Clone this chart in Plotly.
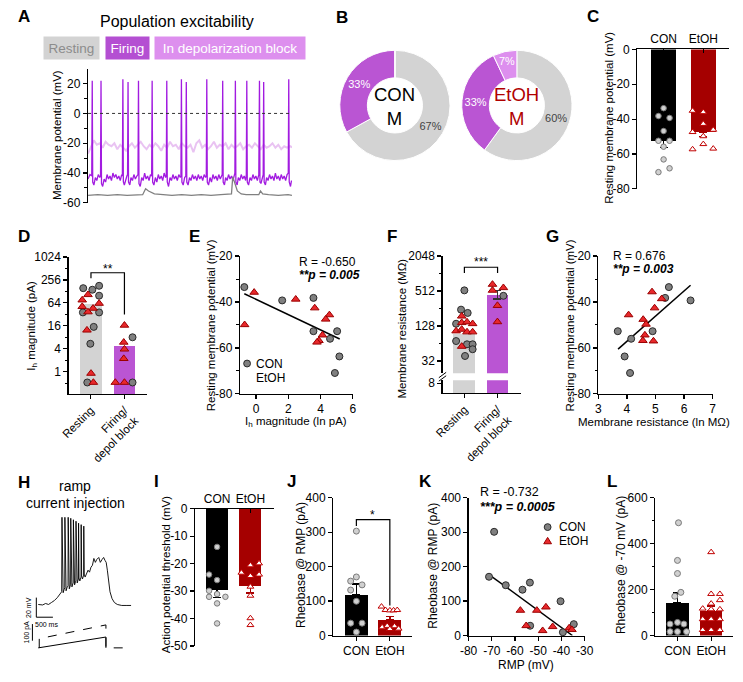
import plotly.graph_objects as go

W, H = 743, 682
FONT = "Liberation Sans, Arial, Helvetica, sans-serif"

# ------------------------------------------------------------------ DATA
# A: example traces (time in ms, membrane potential in mV)
firing_pts = [(0,-44),(20,-41),(38,-42),(43,22),(48,-46),(60,-48),(75,-43),(90,-45),(105,-41),(120,-43),(128,-42),(133,22),(138,-47),(150,-49),
    (165,-44),(180,-46),(195,-41),(210,-44),(225,-42),(240,-45),(255,-40),(270,-43),(285,-41),(300,-44),(315,-42),(330,-45),(345,-41),(352,-42),
    (357,23),(362,-46),(372,-48),(385,-44),(398,-42),(405,-41),(410,21),(415,-46),(428,-48),(440,-43),(455,-45),(470,-41),(485,-44),(500,-42),
    (512,-41),(517,22),(522,-47),(535,-49),(550,-43),(565,-45),(580,-40),(595,-44),(610,-42),(625,-45),(640,-41),(652,-42),(657,22),(662,-46),
    (675,-48),(690,-43),(705,-46),(720,-41),(735,-44),(750,-42),(765,-45),(780,-40),(795,-43),(802,-42),(807,22),(812,-46),(825,-49),(840,-43),
    (855,-45),(870,-41),(885,-44),(900,-42),(915,-45),(930,-41),(945,-43),(952,-42),(957,23),(962,-46),(975,-48),(990,-43),(1002,-42),(1007,21),
    (1012,-46),(1025,-48),(1040,-43),(1055,-45),(1070,-41),(1085,-44),(1100,-42),(1115,-45),(1130,-41),(1145,-44),(1160,-42),(1175,-45),
    (1190,-41),(1205,-43),(1212,-42),(1217,23),(1222,-46),(1235,-48),(1250,-43),(1265,-46),(1280,-41),(1295,-44),(1310,-42),(1325,-45),
    (1340,-41),(1355,-44),(1368,-42),(1375,-41),(1380,22),(1385,-46),(1398,-48),(1410,-43),(1425,-45),(1440,-41),(1455,-44),(1470,-42),
    (1485,-45),(1500,-41),(1505,-40),(1510,22),(1515,-46),(1528,-48),(1540,-43),(1555,-45),(1570,-41),(1585,-44),(1600,-42),(1615,-45),
    (1622,-41),(1627,22),(1632,-46),(1645,-48),(1660,-43),(1675,-45),(1690,-41),(1705,-44),(1720,-42),(1735,-45),(1750,-41),(1757,22),
    (1762,-46),(1772,-47),(1785,-43),(1795,-41),(1800,21),(1805,-46),(1818,-48),(1830,-43),(1845,-45),(1860,-41),(1875,-44),(1890,-42),
    (1905,-45),(1920,-40),(1935,-44),(1950,-42),(1965,-45),(1980,-41),(1995,-44),(2010,-42),(2025,-45),(2040,-41),(2052,-40),(2057,23),
    (2062,-46),(2075,-49),(2085,-45)]
depol_t = list(range(0, 2101, 30))
depol_v = [-27,-22,-18,-21,-20,-23,-19,-21,-22,-20,-24,-21,-23,-25,-22,-20,-23,-21,-19,-22,-24,-21,-23,-20,-22,-25,-21,-23,-19,-22,
           -21,-24,-20,-22,-23,-21,-26,-20,-18,-23,-21,-24,-22,-19,-23,-21,-22,-20,-24,-21,-23,-22,-20,-24,-22,-21,-23,-20,-22,-24,
           -21,-23,-22,-20,-23,-21,-24,-22,-23,-22,-23]
resting_t = [0,100,200,300,400,500,560,590,620,680,760,860,960,1060,1160,1260,1360,1440,1470,1483,1500,1530,1570,1620,1700,1750,1767,1790,1850,1950,2050,2090]
resting_v = [-55,-54.5,-55,-54.5,-55,-54.5,-54.5,-50.5,-52,-54,-54.5,-55,-54.5,-55,-54.5,-55,-54.5,-54.5,-54,-42.5,-46,-52,-54,-54.5,-54.5,-54.5,-52,-54,-54.5,-55,-54.5,-55]

# B: population proportions (%)
pie_labels = ["Resting", "Firing", "In depolarization block"]
pie_con = [67, 33, 0]
pie_etoh = [60, 33, 7]

# C: resting membrane potential (mV)
groups = ["CON", "EtOH"]
c_mean = [-52.4, -47.3]
c_sem = [3.9, 2.8]
c_con = [-33.7, -38.2, -39.3, -46.8, -52.4, -52.4, -55.8, -63.1, -68.2, -70.4]
c_etoh = [-35.2, -36.0, -42.7, -46.1, -47.4, -49.8, -54.3, -57.3, -56.9]

# D: Ih magnitude (pA)
state_labels = ["Resting", "Firing/<br>depol block"]
d_mean = [59.7, 4.75]
d_rest_con = [156, 142, 180, 99, 36, 36, 15, 5.4, 0.52]
d_rest_etoh = [105, 76, 62, 51, 46, 37, 12.3, 0.9, 0.52]
d_fire_con = [8, 0.52]
d_fire_etoh = [16.5, 5.9, 3.9, 2.2, 0.52, 0.52]

# E: RMP vs ln Ih
e_con_x = [-0.73, 1.62, 3.56, 3.56, 4.59, 5.03, 5.17, 4.89]
e_con_y = [-33.5, -39.3, -38.2, -52.7, -56.0, -52.7, -63.7, -70.9]
e_etoh_x = [-0.12, -0.71, 2.46, 3.64, 4.55, 4.32, 4.12, 3.90, 3.78]
e_etoh_y = [-35.8, -49.9, -38.8, -42.6, -45.6, -47.5, -54.4, -56.8, -57.5]
e_fit_x = [-0.73, 5.19]
e_fit_y = [-36.4, -56.1]

# F: membrane resistance (MOhm)
f_mean = [92, 433]
f_sem_up = [0, 93]
f_sem_down = [0, 60]
f_rest_con = [526, 245, 215, 140, 70.5, 62, 62, 51, 39]
f_rest_etoh = [189, 146, 150, 140, 105, 112, 101, 101, 57]
f_fire_con = [424]
f_fire_etoh = [666, 526, 584, 288, 151]

# G: RMP vs ln Rm
g_con_x = [3.68, 4.15, 3.92, 4.11, 4.90, 5.34, 5.47, 6.23]
g_con_y = [-52.7, -56.0, -63.7, -70.9, -52.7, -38.2, -33.5, -39.3]
g_etoh_x = [4.88, 5.22, 4.97, 4.06, 4.57, 4.67, 4.63, 4.56, 4.93]
g_etoh_y = [-35.6, -38.6, -42.6, -45.6, -47.6, -49.7, -54.4, -56.8, -57.0]
g_fit_x = [3.69, 6.23]
g_fit_y = [-60.5, -32.7]

# H: ramp example (ms, mV) and injected current (ms, pA)
ramp_pts = [(0,-65),(150,-65.5),(250,-64),(350,-65),(450,-63),(550,-61),(650,-58),(720,-55),(780,-53),(800,-52),(810,24),(825,-50),(850,-53),
    (880,-50),(905,-48),(910,24),(925,-48),(950,-51),(980,-48),(1017,-46),(1022,24),(1037,-46),(1060,-49),(1090,-46),(1105,-45),(1110,23),
    (1125,-44),(1150,-47),(1180,-44),(1195,-43),(1200,21.5),(1215,-42),(1240,-45),(1270,-42),(1284,-41),(1289,20),(1304,-40),(1330,-43),
    (1360,-40),(1372,-39),(1377,18),(1392,-38),(1420,-41),(1450,-38),(1461,-37),(1466,16.5),(1481,-36),(1510,-39),(1540,-36),(1550,-35),
    (1555,15),(1570,-34),(1600,-37),(1650,-33),(1700,-30),(1750,-32),(1800,-27),(1850,-25),(1900,-18),(1950,-22),(2000,-19),(2067,-17),
    (2120,-22),(2180,-19),(2233,-17),(2280,-20),(2320,-22),(2360,-30),(2400,-42),(2450,-52),(2520,-59),(2600,-63),(2700,-65),(2850,-66),
    (3000,-66),(3170,-66)]
cur_solid_t = [0, 2311, 2311]
cur_solid_i = [0, 66, 0]
cur_dash_t = [33, 33, 2311, 2311, 3170]
cur_dash_i = [0, 56, 140, 0, 0]

# I: AP threshold (mV)
i_mean = [-29.5, -28.1]
i_sem = [2.8, 2.6]
i_con = [-13.9, -24.0, -26.0, -29.9, -32.1, -31.1, -32.1, -34.5, -41.8]
i_etoh = [-20.6, -24.5, -28.4, -31.7, -39.9, -42.4, -23.3, -19.9, -24.0]

# J: rheobase @ RMP (pA)
j_mean = [118.5, 45.5]
j_sem = [31, 10]
j_con = [303, 158, 170, 147, 132, 99.5, 36, 36, 10]
j_etoh = [84, 74, 73, 73, 74, 24, 28, 19, 27, 20]

# K: rheobase vs RMP
k_con_x = [-71.2, -69.0, -64.0, -56.8, -53.6, -53.5, -40.4, -39.4, -34.7]
k_con_y = [170.6, 301, 146, 133, 153.6, 28.4, 99.5, 9.5, 33]
k_etoh_x = [-57.7, -55.2, -50.6, -48.1, -46.7, -43.8, -36.7, -35.5]
k_etoh_y = [73, 28.4, 73, 14, 82.5, 25.6, 21.8, 17]
k_fit_x = [-71.2, -35.3]
k_fit_y = [177, 0]

# L: rheobase @ -70 mV (pA)
l_mean = [142, 108]
l_sem = [43, 20]
l_con = [491, 327, 270, 188, 171, 57, 50, 50, 17, 17, 17]
l_etoh = [363, 181, 181, 139, 154, 117, 114, 114, 71, 71, 71, 24, 24, 24]

# ---------------------------------------------------------- STYLE (jitter offsets etc.)
c_con_dx = [0, -0.13, 0.15, 0, -0.13, 0.15, 0, 0, 0.15, -0.13]
c_etoh_dx = [-0.27, 0, 0, 0.25, -0.27, 0, 0, -0.27, 0.25]
d_rest_con_dx = [-0.22, 0.05, 0.25, 0.25, -0.23, 0.25, 0.09, -0.01, -0.10]
d_rest_etoh_dx = [-0.08, -0.25, 0.25, -0.25, 0.07, -0.08, -0.11, 0.01, 0.08]
d_fire_con_dx = [0.24, 0.24]
d_fire_etoh_dx = [0, -0.02, 0, -0.02, -0.27, 0]
f_rest_con_dx = [0, -0.1, 0.1, -0.25, -0.25, 0.08, 0.25, 0.25, 0.02]
f_rest_etoh_dx = [-0.08, -0.08, 0.08, 0.25, -0.25, -0.08, 0.08, 0.25, -0.08]
f_fire_con_dx = [0.18]
f_fire_etoh_dx = [-0.15, -0.15, 0.18, 0, 0]
i_con_dx = [0, -0.24, 0, -0.24, -0.24, 0, 0.25, 0, 0]
i_etoh_dx = [0, 0, 0, 0, 0, 0, -0.27, 0.26, 0.26]
j_con_dx = [0, -0.17, 0, 0.17, -0.17, 0, -0.17, 0.17, 0]
j_etoh_dx = [-0.25, -0.13, 0, 0.11, 0.22, -0.23, -0.08, 0, 0.14, 0.26]
l_con_dx = [0.03, 0, 0, 0.1, -0.08, 0, -0.22, 0.19, -0.22, 0, 0.27]
l_etoh_dx = [0, 0, 0.26, 0, 0.26, -0.25, 0, 0.26, -0.25, 0, 0.26, -0.25, 0, 0.26]

GRAY = "#D3D3D3"
PURPLE = "#BA55D3"
LPURPLE = "#DD8FEE"
DARKRED = "#A50000"
RED = "#E8282B"
CON_DARK = dict(symbol="circle", size=7, color="#808080", line=dict(color="#2A2A2A", width=1))
ETOH_DARK = dict(symbol="triangle-up", size=7.5, color=RED, line=dict(color="#9A0000", width=1))


def fx(px):
    return px / W


def fy(py):
    return 1 - py / H


def dxr(a, b):
    return [a / W, b / W]


def dyr(top, bottom):
    return [1 - bottom / H, 1 - top / H]


fig = go.Figure()

# ---------------- A
fig.add_trace(go.Scatter(x=depol_t, y=depol_v, mode="lines", line=dict(color="#E9C3F2", width=2), xaxis="x", yaxis="y", showlegend=False))
fig.add_trace(go.Scatter(x=[p[0] for p in firing_pts], y=[p[1] for p in firing_pts], mode="lines",
                         line=dict(color="#A21BE0", width=1.3), xaxis="x", yaxis="y", showlegend=False))
fig.add_trace(go.Scatter(x=resting_t, y=resting_v, mode="lines", line=dict(color="#808080", width=1.3), xaxis="x", yaxis="y", showlegend=False))

# ---------------- B
pie_common = dict(labels=pie_labels, hole=0.5, sort=False, direction="clockwise", rotation=0,
                  marker=dict(colors=[GRAY, PURPLE, LPURPLE], line=dict(color="white", width=1)),
                  textinfo="percent", textposition="inside", insidetextorientation="horizontal",
                  textfont=dict(family=FONT, size=11, color=["#444444", "white", "white"]), showlegend=False)
fig.add_trace(go.Pie(values=pie_con, domain=dict(x=dxr(339, 452), y=dyr(44, 157)), **pie_common))
fig.add_trace(go.Pie(values=pie_etoh, domain=dict(x=dxr(464, 577), y=dyr(44, 157)), **pie_common))


def add_bars(ax, means, ups, downs, colors, width, errcolors=None):
    xa, ya = "x" + ax, "y" + ax
    errcolors = errcolors or colors
    for i, (m, u, d, c, ec) in enumerate(zip(means, ups, downs, colors, errcolors)):
        err = dict(type="data", symmetric=False, array=[u], arrayminus=[d],
                   color=ec, thickness=1.3, width=4, visible=bool(u or d))
        fig.add_trace(go.Bar(x=[i], y=[m], width=width, marker=dict(color=c, line=dict(width=0)),
                             error_y=err, xaxis=xa, yaxis=ya, showlegend=False))


def add_pts(ax, cat, vals, dx, kind, size):
    xa, ya = "x" + ax, "y" + ax
    if kind == "con_light":
        marker = dict(symbol="circle", size=size, color="#D0D0D0", line=dict(color="#7A7A7A", width=1))
    elif kind == "etoh_light":
        marker = dict(symbol="triangle-up", size=size, color="white", line=dict(color="#C00000", width=1))
    elif kind == "con_dark":
        marker = dict(CON_DARK, size=size)
    else:
        marker = dict(ETOH_DARK, size=size)
    fig.add_trace(go.Scatter(x=[cat + d for d in dx], y=vals, mode="markers", marker=marker, cliponaxis=False,
                             xaxis=xa, yaxis=ya, showlegend=False))


def add_scatter(ax, x, y, marker):
    fig.add_trace(go.Scatter(x=x, y=y, mode="markers", marker=marker, cliponaxis=False, showlegend=False,
                             xaxis="x" + ax, yaxis="y" + ax))


def add_fit(ax, x, y):
    fig.add_trace(go.Scatter(x=x, y=y, mode="lines", line=dict(color="black", width=1.5), showlegend=False,
                             xaxis="x" + ax, yaxis="y" + ax))


# ---------------- C
add_bars("2", c_mean, [0, 0], c_sem, ["black", DARKRED], 0.64)
add_pts("2", 0, c_con, c_con_dx, "con_light", 5.5)
add_pts("2", 1, c_etoh, c_etoh_dx, "etoh_light", 6)

# ---------------- D
add_bars("3", d_mean, [0, 0], [0, 0], [GRAY, PURPLE], 0.645)
add_pts("3", 0, d_rest_con, d_rest_con_dx, "con_dark", 7)
add_pts("3", 0, d_rest_etoh, d_rest_etoh_dx, "etoh_dark", 7.5)
add_pts("3", 1, d_fire_con, d_fire_con_dx, "con_dark", 7)
add_pts("3", 1, d_fire_etoh, d_fire_etoh_dx, "etoh_dark", 7.5)

# ---------------- E
add_fit("4", e_fit_x, e_fit_y)
add_scatter("4", e_con_x, e_con_y, CON_DARK)
add_scatter("4", e_etoh_x, e_etoh_y, ETOH_DARK)

# ---------------- F (broken axis: upper x5/y5, lower x6/y6)
add_bars("5", f_mean, f_sem_up, f_sem_down, [GRAY, PURPLE], 0.66, errcolors=["#333333", "#333333"])
add_bars("6", f_mean, [0, 0], [0, 0], [GRAY, PURPLE], 0.66)
add_pts("5", 0, f_rest_con, f_rest_con_dx, "con_dark", 7)
add_pts("5", 0, f_rest_etoh, f_rest_etoh_dx, "etoh_dark", 7.5)
add_pts("5", 1, f_fire_etoh, f_fire_etoh_dx, "etoh_dark", 7.5)
add_pts("5", 1, f_fire_con, f_fire_con_dx, "con_dark", 7)

# ---------------- G
add_fit("7", g_fit_x, g_fit_y)
add_scatter("7", g_con_x, g_con_y, CON_DARK)
add_scatter("7", g_etoh_x, g_etoh_y, ETOH_DARK)

# ---------------- H
fig.add_trace(go.Scatter(x=[p[0] for p in ramp_pts], y=[p[1] for p in ramp_pts], mode="lines", line=dict(color="black", width=0.9),
                         xaxis="x8", yaxis="y8", showlegend=False))
fig.add_trace(go.Scatter(x=cur_solid_t, y=cur_solid_i, mode="lines", line=dict(color="black", width=1), xaxis="x9", yaxis="y9", showlegend=False))
fig.add_trace(go.Scatter(x=cur_dash_t, y=cur_dash_i, mode="lines", line=dict(color="black", width=1, dash="dash"),
                         xaxis="x9", yaxis="y9", showlegend=False))

# ---------------- I
add_bars("10", i_mean, [0, 0], i_sem, ["black", DARKRED], 0.66)
add_pts("10", 0, i_con, i_con_dx, "con_light", 5.5)
add_pts("10", 1, i_etoh, i_etoh_dx, "etoh_light", 6)

# ---------------- J
add_bars("11", j_mean, j_sem, [0, 0], ["black", DARKRED], 0.68)
add_pts("11", 0, j_con, j_con_dx, "con_light", 6)
add_pts("11", 1, j_etoh, j_etoh_dx, "etoh_light", 6)

# ---------------- K
add_fit("12", k_fit_x, k_fit_y)
add_scatter("12", k_con_x, k_con_y, CON_DARK)
add_scatter("12", k_etoh_x, k_etoh_y, ETOH_DARK)

# ---------------- L
add_bars("13", l_mean, l_sem, [0, 0], ["black", DARKRED], 0.66)
add_pts("13", 0, l_con, l_con_dx, "con_light", 6)
add_pts("13", 1, l_etoh, l_etoh_dx, "etoh_light", 6)

# ------------------------------------------------------------------ AXES
TICKFONT = dict(family=FONT, size=12, color="black")


def ax(domain, rng, anchor, **kw):
    d = dict(domain=domain, range=rng, anchor=anchor, showgrid=False, zeroline=False, showline=True,
             linecolor="black", linewidth=1.2, ticks="outside", ticklen=4, tickwidth=1.2, tickcolor="black",
             tickfont=TICKFONT, fixedrange=True)
    d.update(kw)
    return d


def tv(vals):
    return dict(tickmode="array", tickvals=vals, ticktext=[str(v) for v in vals])


def minor(vals):
    return dict(tickmode="array", tickvals=vals, ticks="outside", ticklen=2.5, tickwidth=1, tickcolor="black")


cat_ticks = dict(tickmode="array", tickvals=[0, 1], ticktext=groups)
state_ticks = dict(tickmode="array", tickvals=[0, 1], ticktext=state_labels, tickangle=-45,
                   tickfont=dict(family=FONT, size=11.5, color="black"))

layout_axes = dict(
    xaxis=ax(dxr(81, 290), [0, 2090], "y", visible=False),
    yaxis=ax(dyr(63, 200), [-60, 30], "x", **tv([-60, -40, -20, 0, 20]), minor=minor([-50, -30, -10, 10])),
    xaxis2=ax(dxr(644, 738), [-0.66, 1.65], "y2", side="top", **cat_ticks, ticks="inside"),
    yaxis2=ax(dyr(43.3, 185.7), [-80, 0], "x2", **tv([-80, -60, -40, -20, 0])),
    xaxis3=ax(dxr(61, 141.7), [-0.656, 1.676], "y3", **state_ticks),
    yaxis3=ax(dyr(255.3, 395), [-0.584, 3.0103], "x3", type="log", **tv([1, 4, 16, 64, 256, 1024]),
              minor=minor([0.5, 2, 8, 32, 128, 512])),
    xaxis4=ax(dxr(236.7, 352.3), [-1, 6], "y4", **tv([0, 2, 4, 6])),
    yaxis4=ax(dyr(254.3, 395), [-80, -20], "x4", **tv([-80, -60, -40, -20]), minor=minor([-70, -50, -30])),
    xaxis5=ax(dxr(444.3, 524.3), [-0.66, 1.7], "y5", visible=False),
    yaxis5=ax(dyr(254.3, 374), [1.2927, 3.3113], "x5", type="log", **tv([32, 128, 512, 2048]), minor=minor([64, 256, 1024])),
    xaxis6=ax(dxr(444.3, 524.3), [-0.66, 1.7], "y6", **state_ticks),
    yaxis6=ax(dyr(381, 394.3), [0.728, 0.954], "x6", type="log", **tv([8])),
    xaxis7=ax(dxr(604, 721), [3, 7], "y7", **tv([3, 4, 5, 6, 7])),
    yaxis7=ax(dyr(254.3, 395), [-80, -20], "x7", **tv([-80, -60, -40, -20]), minor=minor([-70, -50, -30])),
    xaxis8=ax(dxr(20, 126), [-333, 3200], "y8", visible=False),
    yaxis8=ax(dyr(518, 632), [-87, 27], "x8", visible=False),
    xaxis9=ax(dxr(20, 126), [-333, 3200], "y9", visible=False),
    yaxis9=ax(dyr(625, 665), [-64, 175], "x9", visible=False),
    xaxis10=ax(dxr(190.7, 272), [-0.66, 1.72], "y10", side="top", **cat_ticks, ticks="inside"),
    yaxis10=ax(dyr(512.3, 652.3), [-50, 0], "x10", **tv([-50, -40, -30, -20, -10, 0])),
    xaxis11=ax(dxr(332.3, 413), [-0.69, 1.66], "y11", **cat_ticks),
    yaxis11=ax(dyr(501, 641.7), [0, 400], "x11", **tv([0, 100, 200, 300, 400])),
    xaxis12=ax(dxr(471, 590), [-80, -30], "y12", **tv([-80, -70, -60, -50, -40, -30])),
    yaxis12=ax(dyr(501, 641.7), [0, 400], "x12", **tv([0, 100, 200, 300, 400])),
    xaxis13=ax(dxr(662.3, 742), [-0.66, 1.65], "y13", **cat_ticks),
    yaxis13=ax(dyr(501, 641.7), [0, 600], "x13", **tv([0, 200, 400, 600]), minor=minor([100, 300, 500])),
)

# ------------------------------------------------------------------ ANNOTATIONS
anns = []


def ann(text, x, y, size=11.5, xanchor="center", yanchor="middle", color="black", angle=0, **kw):
    anns.append(dict(text=text, x=fx(x), y=fy(y), xref="paper", yref="paper", xanchor=xanchor, yanchor=yanchor,
                     showarrow=False, textangle=angle, font=dict(family=FONT, size=size, color=color), **kw))


for letter, x, y in [("A", 7, 10), ("B", 333, 11), ("C", 590, 10), ("D", 7, 234), ("E", 182, 234), ("F", 385, 234),
                     ("G", 548, 234), ("H", 7, 485), ("I", 147, 484), ("J", 283, 484), ("K", 418, 484), ("L", 611, 484)]:
    ann("<b>%s</b>" % letter, x, y, size=17, xanchor="left")

ann("Population excitability", 172, 15, size=16)
for txt, x0, x1, bg, col in [("Resting", 37, 92, GRAY, "#8C8C8C"), ("Firing", 100, 143, "#B44FD2", "white"),
                             ("In depolarization block", 151, 301, LPURPLE, "white")]:
    anns.append(dict(text=txt, x=fx((x0 + x1) / 2), y=fy(42), xref="paper", yref="paper", xanchor="center", yanchor="middle",
                     showarrow=False, width=x1 - x0 - 2, height=20, bgcolor=bg, borderpad=1,
                     font=dict(family=FONT, size=13.5, color=col)))

ann("CON<br>M", 395, 102, size=18.5)
ann("EtOH<br>M", 520, 102, size=18.5, color="#B00000")

# axis titles
ann("Membrane potential (mV)", 50, 131, angle=-90)
ann("Resting membrane potential (mV)", 615, 113, angle=-90)
ann("I<sub>h</sub> magnitude (pA)", 24, 325, angle=-90)
ann("Resting membrane potential (mV)", 207, 325, angle=-90)
ann("I<sub>h</sub> magnitude (ln pA)", 294, 424)
ann("Membrane resistance (MΩ)", 403, 328, angle=-90)
ann("Resting membrane potential (mV)", 575, 325, angle=-90)
ann("Membrane resistance (ln MΩ)", 661, 424)
ann("Action potential threshold (mV)", 161, 580, angle=-90)
ann("Rheobase @ RMP (pA)", 300, 570, angle=-90, size=12)
ann("Rheobase @ RMP (pA)", 435, 570, angle=-90, size=12)
ann("RMP (mV)", 530, 672, size=12)
ann("Rheobase @ -70 mV (pA)", 627, 570, angle=-90, size=12)

# stats text
ann("R = -0.650", 295, 260, size=12, xanchor="left")
ann("<b><i>**p = 0.005</i></b>", 295, 274, size=12, xanchor="left")
ann("R = 0.676", 617, 254, size=12, xanchor="left")
ann("<b><i>**p = 0.003</i></b>", 617, 268, size=12, xanchor="left")
ann("R = -0.732", 481, 495, size=12.5, xanchor="left")
ann("<b><i>***p = 0.0005</i></b>", 481, 510, size=12.5, xanchor="left")
ann("**", 101, 267, size=12)
ann("***", 484, 260, size=12)
ann("*", 373, 519, size=12)

# legends (E and K)
ann("CON", 251, 364, size=12, xanchor="left")
ann("EtOH", 251, 379, size=12, xanchor="left")
ann("CON", 562, 531, size=12, xanchor="left")
ann("EtOH", 562, 545, size=12, xanchor="left")

# H texts
ann("ramp", 68, 489, size=14)
ann("current injection", 68, 506, size=14)
ann("20 mV", 20, 613, size=7, angle=-90)
ann("500 ms", 38, 630, size=7)
ann("100 pA", 18, 638, size=7, angle=-90)

# ------------------------------------------------------------------ SHAPES
shapes = []


def pline(pts, width=1.2, color="black", dash=None, fill=None, close=False):
    path = "M " + " L ".join("%f %f" % (fx(x), fy(y)) for x, y in pts) + (" Z" if close else "")
    s = dict(type="path", path=path, xref="paper", yref="paper", line=dict(color=color, width=width))
    if dash:
        s["line"]["dash"] = dash
    if fill:
        s["fillcolor"] = fill
    shapes.append(s)


def legend_circle(cx, cy, r=3.5):
    shapes.append(dict(type="circle", xref="paper", yref="paper", x0=fx(cx - r), x1=fx(cx + r), y0=fy(cy + r), y1=fy(cy - r),
                       fillcolor="#808080", line=dict(color="#2A2A2A", width=1)))


# zero line in A
shapes.append(dict(type="line", xref="x domain", yref="y", x0=0, x1=1, y0=0, y1=0, line=dict(color="#333333", width=1, dash="dot")))
# significance brackets
pline([(84, 277), (84, 271.3), (118.3, 271.3), (118.3, 314)])
pline([(466.7, 271.7), (466.7, 265.7), (500.7, 265.7), (500.7, 271.7)])
pline([(356, 530), (356, 523.3), (390.3, 523.3), (390.3, 611)])
# broken axis mark in F
shapes.append(dict(type="rect", xref="paper", yref="paper", x0=fx(440), x1=fx(449), y0=fy(380.5), y1=fy(374.5),
                   line=dict(width=0), fillcolor="white"))
pline([(440.5, 378.5), (448, 373)], width=1)
pline([(440.5, 382), (448, 376.5)], width=1)
# H scale bars
pline([(28, 603), (28, 623), (45, 623)], width=1)
pline([(24, 630), (24, 647)], width=1)
# legend keys
legend_circle(244, 364)
legend_circle(552, 531)
pline([(548, 548), (556, 548), (552, 541.5)], width=1, color="#9A0000", fill=RED, close=True)

fig.update_layout(
    width=W, height=H, margin=dict(l=0, r=0, t=0, b=0, pad=0), paper_bgcolor="white", plot_bgcolor="rgba(0,0,0,0)",
    font=dict(family=FONT, size=11, color="black"), showlegend=False, bargap=0,
    annotations=anns, shapes=shapes,
    **layout_axes,
)

fig.write_html("out.html", config={"displayModeBar": False, "staticPlot": True},
               post_script="document.body.style.margin='0px';document.body.style.padding='0px';")
